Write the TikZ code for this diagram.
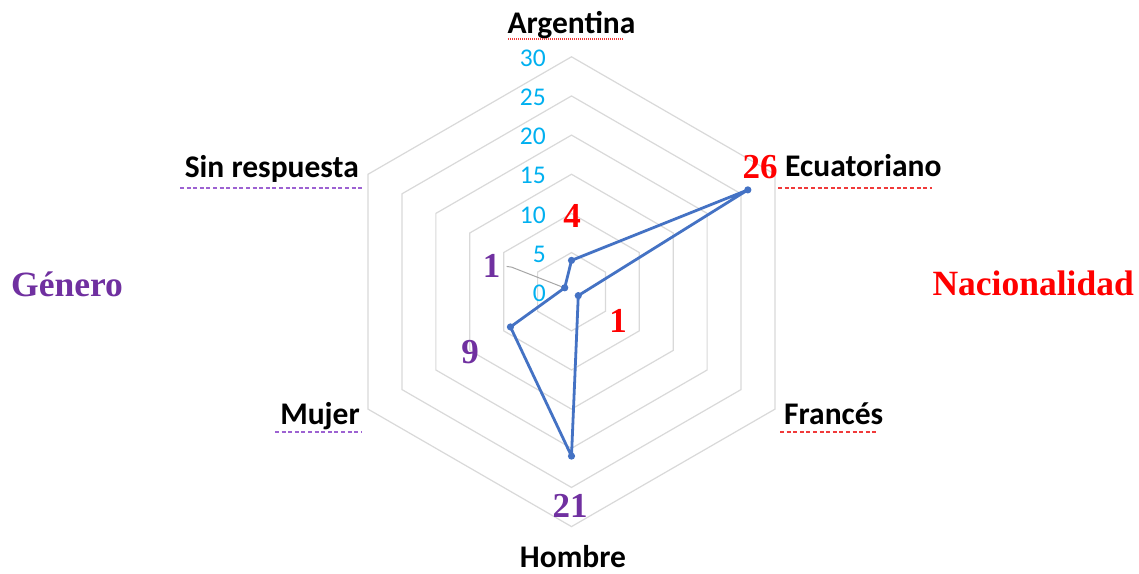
\documentclass[tikz,border=0pt]{standalone}
\usepackage{fontspec}
\setmainfont{Liberation Serif}
\newfontfamily\calib{Carlito}
\usetikzlibrary{calc}
\definecolor{tickblue}{HTML}{00B0F0}
\definecolor{redlab}{HTML}{FF0000}
\definecolor{purplab}{HTML}{7030A0}
\definecolor{ulredc}{HTML}{F03A3A}
\definecolor{ulpurc}{HTML}{9D62D2}
\definecolor{datablue}{HTML}{4472C4}
\definecolor{gridgray}{HTML}{D9D9D9}
\definecolor{leadgray}{HTML}{A6A6A6}
\tikzset{
  gridline/.style={draw=gridgray,line width=1.2pt,line join=miter},
  ticklabel/.style={anchor=east,inner sep=0pt,text=tickblue,font=\calib\fontsize{25.5}{30}\selectfont},
  axislabel/.style={inner sep=0pt,text=black,font=\calib\bfseries\fontsize{31.5}{36}\selectfont},
  vallabel/.style={inner sep=0pt,anchor=base,font=\bfseries\fontsize{35}{40}\selectfont},
  grouplabel/.style={inner sep=0pt,font=\bfseries\fontsize{35.5}{40}\selectfont},
  dataline/.style={draw=datablue,line width=2.8pt,line join=round},
  datamark/.style={fill=datablue},
  ulred/.style={draw=ulredc,line width=1.1pt,dash pattern=on 4pt off 2.6pt},
  ulpurple/.style={draw=ulpurc,line width=1.1pt,dash pattern=on 4pt off 2.6pt},
  uldot/.style={draw=ulredc,line width=1.1pt,dash pattern=on 1pt off 1pt},
  leader/.style={draw=leadgray,line width=1pt}
}
\begin{document}
\begin{tikzpicture}[x=1pt,y=1pt]
\useasboundingbox (0,0) rectangle (1139,573);
\fill[white] (0,0) rectangle (1139,573);
\coordinate (C) at (571.5,281.3);
% grid rings
\foreach \k in {5,10,...,30}{
  \draw[gridline] ($(C)+(90:{\k*7.83pt})$) -- ($(C)+(30:{\k*7.83pt})$) -- ($(C)+(-30:{\k*7.83pt})$) -- ($(C)+(-90:{\k*7.83pt})$) -- ($(C)+(-150:{\k*7.83pt})$) -- ($(C)+(150:{\k*7.83pt})$) -- cycle;
}
% tick labels
\foreach \k in {0,5,...,30}{
  \node[ticklabel] (t\k) at ($(C)+(-25.5pt,{\k*7.83pt-1.5pt})$) {\k};
}
% data points
\coordinate (pA) at ($(C)+(90:31.3pt)$);
\coordinate (pE) at ($(C)+(30:203.6pt)$);
\coordinate (pF) at ($(C)+(-30:7.83pt)$);
\coordinate (pH) at ($(C)+(-90:164.4pt)$);
\coordinate (pM) at ($(C)+(-150:70.5pt)$);
\coordinate (pS) at ($(C)+(150:7.83pt)$);
% value labels
\node[vallabel,text=redlab] (vA) at (572,345) {4};
\node[vallabel,text=redlab] (vE) at (760,394) {26};
\node[vallabel,text=redlab] (vF) at (618,240) {1};
\node[vallabel,text=purplab] (vS) at (491.7,295) {1};
\node[vallabel,text=purplab] (vM) at (470,209) {9};
\node[vallabel,text=purplab] (vH) at (570,56) {21};
% leader line
\draw[leader] ([xshift=6pt]vS.east) -- ++(5,-0.7) -- ($(pS)!3pt!(vS.east)$);
% data polygon
\draw[dataline] (pA) -- (pE) -- (pF) -- (pH) -- (pM) -- (pS) -- cycle;
\foreach \p in {pA,pE,pF,pH,pM,pS}{
  \fill[datamark] (\p) circle (3.6pt);
}
% axis labels
\node[axislabel,anchor=base] (lA) at (571.5,539) {Argentina};
\node[axislabel,anchor=base west] (lE) at (785,396) {Ecuatoriano};
\node[axislabel,anchor=base west] (lF) at (784,149) {Francés};
\node[axislabel,anchor=base] (lH) at (573,6) {Hombre};
\node[axislabel,anchor=base east] (lM) at (360,149) {Mujer};
\node[axislabel,anchor=base east] (lS) at (359,395) {Sin respuesta};
% underlines
\draw[uldot] (508,534) -- (623,534);
\draw[ulred] (778,385) -- (932,385);
\draw[ulred] (780,141) -- (877,141);
\draw[ulpurple] (180,385) -- (362,385);
\draw[ulpurple] (275,141) -- (362,141);
% group labels
\node[grouplabel,anchor=base west,text=purplab] (gG) at (11,276) {Género};
\node[grouplabel,anchor=base east,text=redlab] (gN) at (1134,277) {Nacionalidad};
\end{tikzpicture}
\end{document}
